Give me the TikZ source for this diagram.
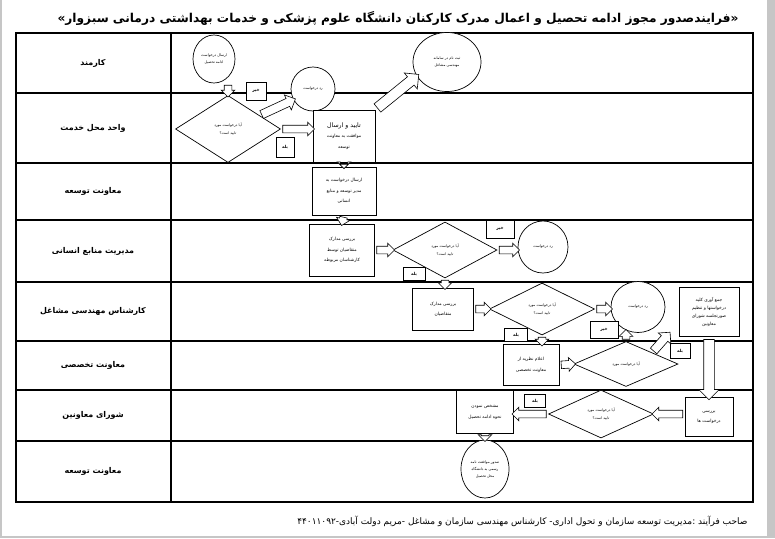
\documentclass[tikz,border=0pt]{standalone}
\usepackage{fontspec}
\usepackage{xcolor}
\usepackage{tikz}
\usetikzlibrary{shapes.geometric,shapes.arrows,calc}
\newfontfamily\arabicfont[Script=Arabic]{DejaVu Sans}
\TeXXeTstate=1
\newcommand{\fa}[1]{{\arabicfont\beginR #1\endR}}
\newcommand{\fab}[1]{{\arabicfont\bfseries\beginR #1\endR}}
% hollow block arrow from one anchor to another
\newcommand{\blockarrow}[3][]{%
  \path let \p1=(#2), \p2=(#3),
    \n1={atan2(\y2-\y1,\x2-\x1)}, \n2={veclen(\x2-\x1,\y2-\y1)} in
    node[flow, #1, rotate=\n1, minimum height=\n2] at ($(\p1)!0.5!(\p2)$) {};}

\begin{document}
\begin{tikzpicture}[x=1pt, y=-1pt,
  lane/.style={line width=2.4pt},
  lanename/.style={font=\fontsize{8}{10}\selectfont},
  state/.style={draw, ellipse, fill=white, line width=0.7pt, inner sep=0pt, align=center, font=\fontsize{3.6}{7}\selectfont},
  task/.style={draw, rectangle, fill=white, line width=0.7pt, inner sep=0pt, align=center, font=\fontsize{4.4}{10.5}\selectfont},
  test/.style={draw, diamond, fill=white, line width=0.7pt, inner sep=0pt, align=center, font=\fontsize{3.6}{8}\selectfont},
  answer/.style={draw, rectangle, fill=white, line width=0.7pt, inner sep=0pt, font=\fontsize{4.2}{5}\selectfont},
  flow/.style={single arrow, draw, fill=white, line width=0.6pt, inner xsep=0pt, inner ysep=3.5pt, single arrow head extend=3pt},
  midflow/.style={inner ysep=4pt, single arrow head extend=4pt},
  bigflow/.style={inner ysep=5pt, single arrow head extend=5pt},
]
  % Page
  \fill[gray!45] (0,0) rectangle (775,538);
  \fill[white] (2,0) rectangle (767,536);
  \useasboundingbox (0,0) rectangle (775,538);

  % Title
  \node (title) at (398,18) {\fontsize{12.2}{14}\selectfont{\arabicfont\bfseries »}\fab{فرایندصدور مجوز ادامه تحصیل و اعمال مدرک کارکنان دانشگاه علوم پزشکی و خدمات بهداشتی درمانی سبزوار}{\arabicfont\bfseries «}};

  % Lanes
  \draw[lane] (16,33) rectangle (753,502);
  \draw[lane] (171,33) -- (171,502);
  \foreach \y in {93,163,220,282,341,390,441}
    \draw[lane] (16,\y) -- (753,\y);

  \node[lanename] (l1) at (93,63) {\fab{کارمند}};
  \node[lanename] (l2) at (93,128) {\fab{واحد محل خدمت}};
  \node[lanename] (l3) at (93,191) {\fab{معاونت توسعه}};
  \node[lanename] (l4) at (93,251) {\fab{مدیریت منابع انسانی}};
  \node[lanename] (l5) at (93,311) {\fab{کارشناس مهندسی مشاغل}};
  \node[lanename] (l6) at (93,365) {\fab{معاونت تخصصی}};
  \node[lanename] (l7) at (93,415) {\fab{شورای معاونین}};
  \node[lanename] (l8) at (93,471) {\fab{معاونت توسعه}};

  % Steps
  \node[state, minimum width=42, minimum height=48] (req) at (214,59) {\fa{ارسال درخواست}\\\fa{ادامه تحصیل}};
  \node[state, minimum width=44, minimum height=44] (reject1) at (313,89) {\fa{رد درخواست}};
  \node[state, minimum width=68, minimum height=59] (signup) at (447,62) {\fa{ثبت نام در سامانه}\\\fa{مهندسی مشاغل}};
  \node[test, minimum width=105, minimum height=67] (chk1) at (228,129) {\fa{آیا درخواست مورد}\\\fa{تایید است؟}};
  \node[task, minimum width=62, minimum height=52] (approve) at (344,136) {{\fontsize{6.2}{8}\selectfont\fa{تایید و ارسال}}\\\fa{موافقت به معاونت}\\\fa{توسعه}};
  \node[task, minimum width=64, minimum height=48] (sendhr) at (344,191) {\fa{ارسال درخواست به}\\\fa{مدیر توسعه و منابع}\\\fa{انسانی}};
  \node[task, minimum width=65, minimum height=52] (review1) at (342,250) {\fa{بررسی مدارک}\\\fa{متقاضیان توسط}\\\fa{کارشناسان مربوطه}};
  \node[test, minimum width=104, minimum height=56] (chk2) at (445,250) {\fa{آیا درخواست مورد}\\\fa{تایید است؟}};
  \node[state, minimum width=50, minimum height=52] (reject2) at (543,247) {\fa{رد درخواست}};
  \node[task, minimum width=61, minimum height=42] (review2) at (443,309) {\fa{بررسی مدارک}\\\fa{متقاضیان}};
  \node[test, minimum width=105, minimum height=52] (chk3) at (542,309) {\fa{آیا درخواست مورد}\\\fa{تایید است؟}};
  \node[state, minimum width=54, minimum height=51] (reject3) at (638,307) {\fa{رد درخواست}};
  \node[task, minimum width=60, minimum height=49, font=\fontsize{4.4}{7.8}\selectfont] (collect) at (709,312) {\fa{جمع آوری کلیه}\\\fa{درخواستها و تنظیم}\\\fa{صورتجلسه شورای}\\\fa{معاونین}};
  \node[task, minimum width=56, minimum height=41] (opinion) at (531,365) {\fa{اعلام نظریه از}\\\fa{معاونت تخصصی}};
  \node[test, minimum width=104, minimum height=45] (chk4) at (626,364) {\fa{آیا درخواست مورد}};
  \node[task, minimum width=48, minimum height=39] (councilrev) at (709,417) {\fa{بررسی}\\\fa{درخواست ها}};
  \node[test, minimum width=105, minimum height=48] (chk5) at (601,414) {\fa{آیا درخواست مورد}\\\fa{تایید است؟}};
  \node[task, minimum width=57, minimum height=43] (method) at (485,412) {\fa{مشخص نمودن}\\\fa{نحوه ادامه تحصیل}};
  \node[state, minimum width=48, minimum height=58] (issue) at (485,469) {\fa{صدور موافقت نامه}\\\fa{رسمی به دانشگاه}\\\fa{محل تحصیل}};

  % Answers
  \node[answer, minimum width=20, minimum height=18] (no1) at (256,91) {\fab{خیر}};
  \node[answer, minimum width=18, minimum height=20] (yes1) at (285,147) {\fab{بله}};
  \node[answer, minimum width=28, minimum height=18] (no2) at (500,229) {\fab{خیر}};
  \node[answer, minimum width=22, minimum height=13] (yes2) at (414,274) {\fab{بله}};
  \node[answer, minimum width=28, minimum height=17] (no3) at (604,330) {\fab{خیر}};
  \node[answer, minimum width=23, minimum height=13] (yes3) at (516,335) {\fab{بله}};
  \node[answer, minimum width=20, minimum height=15] (yes4) at (680,351) {\fab{بله}};
  \node[answer, minimum width=21, minimum height=13] (yes5) at (535,401) {\fab{بله}};

  % Flow
  \blockarrow{chk1.north |- req.south}{chk1.north}
  \blockarrow[midflow]{$(chk1.north)!0.6!(chk1.east)$}{reject1.209}
  \blockarrow{chk1.east}{approve.west |- chk1.east}
  \blockarrow[bigflow]{approve.north east}{signup.205}
  \blockarrow{approve.south}{sendhr.north}
  \blockarrow{sendhr.south}{review1.north}
  \blockarrow{review1.east}{chk2.west}
  \blockarrow{chk2.east}{reject2.west |- chk2.east}
  \blockarrow{chk2.south}{review2.north -| chk2.south}
  \blockarrow{review2.east}{chk3.west}
  \blockarrow{chk3.east}{reject3.west |- chk3.east}
  \blockarrow{chk3.south}{opinion.north -| chk3.south}
  \blockarrow{opinion.east}{chk4.west}
  \blockarrow{chk4.north}{reject3.250 -| chk4.north}
  \blockarrow[midflow]{chk4.north east}{[xshift=-10pt,yshift=3pt]collect.south west}
  \blockarrow[bigflow]{collect.south}{councilrev.north}
  \blockarrow{councilrev.west |- chk5.east}{chk5.east}
  \blockarrow{chk5.west}{method.east |- chk5.west}
  \blockarrow{method.south}{issue.north}

  % Owner
  \node[anchor=east] (owner) at (751,521) {\fontsize{9}{10}\selectfont\fa{صاحب فرآیند :مدیریت توسعه سازمان و تحول اداری- کارشناس مهندسی سازمان و مشاغل -مریم دولت آبادی-\beginL ۴۴۰۱۱۰۹۲\endL}};
\end{tikzpicture}
\end{document}
